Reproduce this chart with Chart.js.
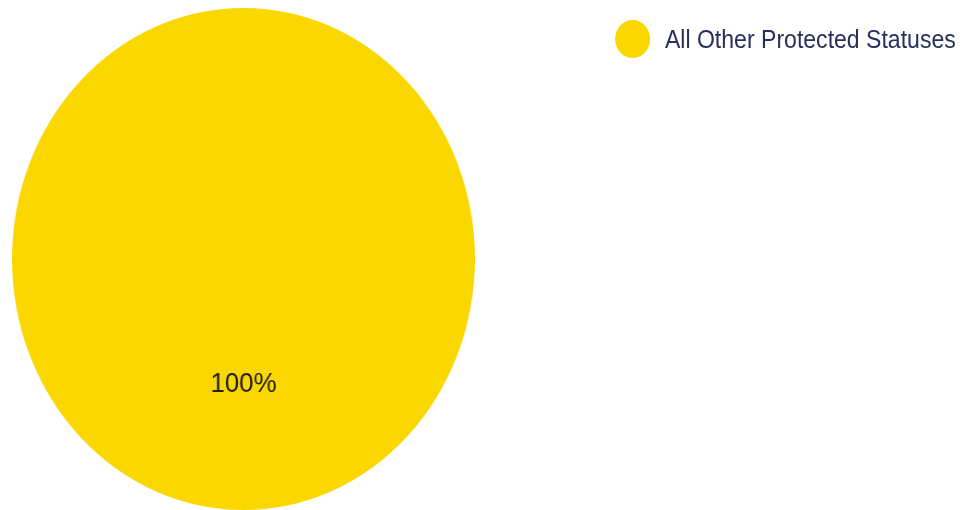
<!DOCTYPE html>
<html>
<head>
<meta charset="utf-8">
<title>Protected Statuses</title>
<script src="https://cdn.jsdelivr.net/npm/chart.js@4"></script>
<style>
  html, body { margin: 0; padding: 0; background: #ffffff; overflow: hidden; }
  body { width: 972px; height: 510px; position: relative; }
  /* the whole figure is drawn wide and condensed horizontally */
  #stage {
    position: absolute; left: 0; top: 0;
    width: 1054px; height: 510px;
    transform: scaleX(0.9222); transform-origin: 0 0;
  }
  #pieBox { position: absolute; left: 0; top: 0; width: 528px; height: 510px; }
  #legend { position: absolute; left: 667px; top: 20px; font-family: "Liberation Sans", Arial, sans-serif; }
  .item { position: relative; height: 38px; }
  .swatch { position: absolute; left: 0; top: 0; width: 38px; height: 38px; border-radius: 50%; }
  .label { position: absolute; left: 54px; top: 4px; font-size: 25px; line-height: 30px; color: #27305c; white-space: nowrap; }
</style>
</head>
<body>
<div id="stage">
  <div id="pieBox"><canvas id="pie"></canvas></div>
  <div id="legend"></div>
</div>
<script>
const categories = ["All Other Protected Statuses"];
const shares = [100];
const sliceColors = ["#fbd700"];

// legend: one coloured dot and name per category
const legendEl = document.getElementById("legend");
categories.forEach((name, i) => {
  const item = document.createElement("div");
  item.className = "item";
  const dot = document.createElement("div");
  dot.className = "swatch";
  dot.style.background = sliceColors[i];
  const txt = document.createElement("div");
  txt.className = "label";
  txt.textContent = name;
  item.appendChild(dot);
  item.appendChild(txt);
  legendEl.appendChild(item);
});

// percentage written at each slice's centre point
const sliceLabels = {
  id: "sliceLabels",
  afterDatasetsDraw(chart) {
    const ctx = chart.ctx;
    const ds = chart.data.datasets[0];
    const total = ds.data.reduce((a, b) => a + b, 0);
    chart.getDatasetMeta(0).data.forEach((arc, i) => {
      const pos = arc.tooltipPosition();
      const pct = Math.round(ds.data[i] / total * 100);
      ctx.save();
      ctx.font = '28px "Liberation Sans", Arial, sans-serif';
      ctx.fillStyle = "#1e1e1e";
      ctx.textAlign = "center";
      ctx.textBaseline = "middle";
      ctx.fillText(pct + "%", pos.x, pos.y);
      ctx.restore();
    });
  }
};

new Chart(document.getElementById("pie"), {
  type: "pie",
  data: {
    labels: categories,
    datasets: [{
      data: shares,
      backgroundColor: sliceColors,
      borderWidth: 0,
      hoverOffset: 0
    }]
  },
  options: {
    responsive: true,
    maintainAspectRatio: false,
    animation: false,
    layout: { padding: { top: 8, bottom: 0, left: 0, right: 0 } },
    plugins: {
      legend: { display: false },
      tooltip: { enabled: false }
    }
  },
  plugins: [sliceLabels]
});
</script>
</body>
</html>
